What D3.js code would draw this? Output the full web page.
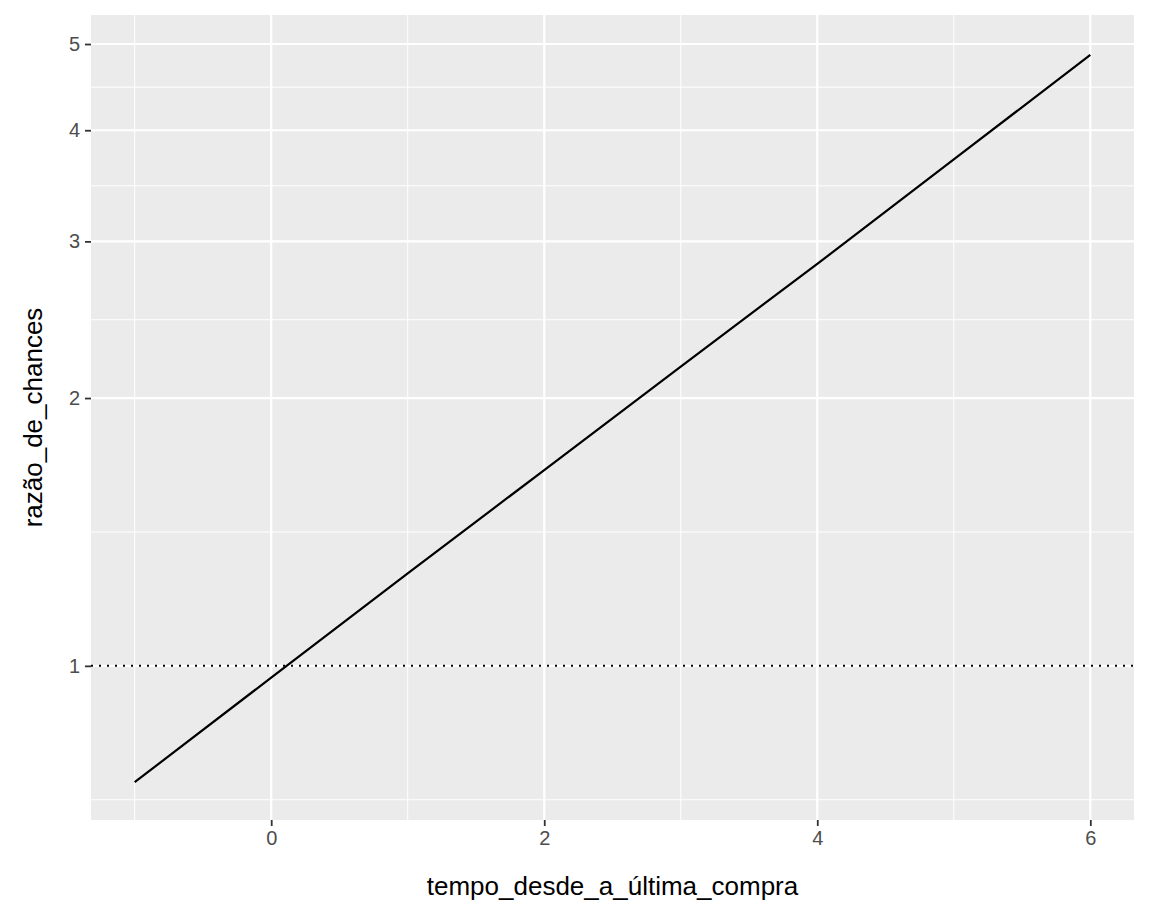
<!DOCTYPE html>
<html>
<head>
<meta charset="utf-8">
<script src="https://cdn.jsdelivr.net/npm/d3@7"></script>
<style>
  body { margin: 0; background: #fff; }
  text { font-family: "Liberation Sans", Arial, sans-serif; }
</style>
</head>
<body>
<svg class="canvas" width="1152" height="922"></svg>
<script>
// data
const tempo = [-1, 0, 1, 2, 3, 4, 5, 6];
const razao = [0.74, 0.97, 1.27, 1.66, 2.17, 2.83, 3.71, 4.86];
const xTicks = [0, 2, 4, 6];
const xMinor = [-1, 1, 3, 5];
const yTicks = [1, 2, 3, 4, 5];
const yMinor = [Math.SQRT1_2, Math.SQRT2, Math.sqrt(6), Math.sqrt(12), Math.sqrt(20)];

const svg = d3.select('.canvas');
const pLeft = 91, pRight = 1134, pTop = 15, pBottom = 820;

// scales
const xScale = d3.scaleLinear().domain([-1.32, 6.32]).range([pLeft, pRight]);
const yScale = d3.scaleLog().domain([0.671, 5.39]).range([pBottom, pTop]);

// panel background
svg.append('rect')
  .attr('x', pLeft).attr('y', pTop)
  .attr('width', pRight - pLeft).attr('height', pBottom - pTop)
  .attr('fill', '#ebebeb');

// grid lines
const grid = svg.append('g').attr('stroke', '#fff');
grid.selectAll('.xmin').data(xMinor).enter().append('line')
  .attr('x1', d => xScale(d)).attr('x2', d => xScale(d))
  .attr('y1', pTop).attr('y2', pBottom).attr('stroke-width', 1);
grid.selectAll('.ymin').data(yMinor).enter().append('line')
  .attr('y1', d => yScale(d)).attr('y2', d => yScale(d))
  .attr('x1', pLeft).attr('x2', pRight).attr('stroke-width', 1);
grid.selectAll('.xmaj').data(xTicks).enter().append('line')
  .attr('x1', d => xScale(d)).attr('x2', d => xScale(d))
  .attr('y1', pTop).attr('y2', pBottom).attr('stroke-width', 2.2);
grid.selectAll('.ymaj').data(yTicks).enter().append('line')
  .attr('y1', d => yScale(d)).attr('y2', d => yScale(d))
  .attr('x1', pLeft).attr('x2', pRight).attr('stroke-width', 2.2);

// axes
const xAxis = d3.axisBottom(xScale).tickValues(xTicks).tickSize(6).tickPadding(5);
const yAxis = d3.axisLeft(yScale).tickValues(yTicks).tickFormat(d3.format('d')).tickSize(6).tickPadding(5);
[svg.append('g').attr('transform', `translate(0, ${pBottom})`).call(xAxis),
 svg.append('g').attr('transform', `translate(${pLeft}, 0)`).call(yAxis)].forEach(g => {
  g.select('.domain').remove();
  g.selectAll('line').attr('stroke', '#333').attr('stroke-width', 1.8);
  g.selectAll('text').attr('fill', '#4d4d4d').style('font-size', '20px');
});

// reference line at 1
svg.append('line')
  .attr('x1', pLeft).attr('x2', pRight)
  .attr('y1', yScale(1)).attr('y2', yScale(1))
  .attr('stroke', '#000').attr('stroke-width', 2)
  .attr('stroke-dasharray', '2,6');

// odds ratio line
svg.append('path')
  .datum(tempo.map((t, i) => [t, razao[i]]))
  .attr('fill', 'none').attr('stroke', '#000').attr('stroke-width', 2.2)
  .attr('d', d3.line().x(d => xScale(d[0])).y(d => yScale(d[1])));

// axis titles
svg.append('text')
  .attr('x', (pLeft + pRight) / 2).attr('y', 895)
  .attr('text-anchor', 'middle').style('font-size', '26px')
  .text('tempo_desde_a_última_compra');
svg.append('text')
  .attr('transform', `translate(42, ${(pTop + pBottom) / 2}) rotate(-90)`)
  .attr('text-anchor', 'middle').style('font-size', '26px')
  .text('razão_de_chances');
</script>
</body>
</html>
